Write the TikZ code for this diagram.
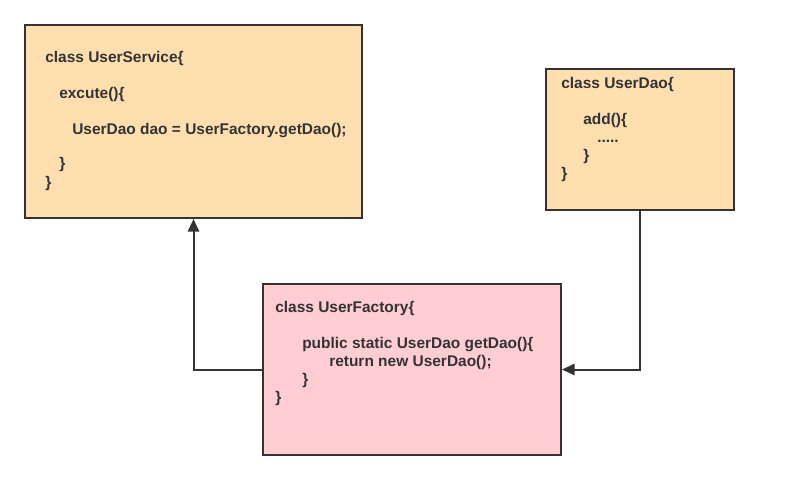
\documentclass[tikz,border=0pt]{standalone}
\usepackage{fontspec}
\setmainfont{Liberation Sans}
\usetikzlibrary{arrows.meta}
\definecolor{lineC}{HTML}{333333}
\definecolor{orangeF}{HTML}{FFDFB0}
\definecolor{pinkF}{HTML}{FFCDD2}
\tikzset{
  box/.style={draw=lineC, line width=1.5pt, inner sep=0pt},
  code/.style={anchor=base west, inner sep=0pt, text=lineC, font=\fontsize{11.6pt}{13.5pt}\selectfont\bfseries},
  arr/.style={draw=lineC, line width=1.5pt, -{Triangle[length=9.5pt,width=8.5pt]}}
}
\begin{document}
\begin{tikzpicture}[x=0.75pt,y=-0.75pt]
\useasboundingbox (0,0) rectangle (805,480);
\node[box, fill=orangeF, minimum width=252.75pt, minimum height=144.75pt] (svc) at (193.5,121.5) {};
\node[box, fill=orangeF, minimum width=141pt, minimum height=105.75pt] (dao) at (640,139.5) {};
\node[box, fill=pinkF, minimum width=223.5pt, minimum height=128.25pt] (fac) at (412,369.5) {};
% UserService text
\node[code] (s1) at (45,62) {class UserService\{};
\node[code] (s2) at (59,98) {excute()\{};
\node[code] (s3) at (72,134) {UserDao dao = UserFactory.getDao();};
\node[code] (s4) at (59,168) {\}};
\node[code] (s5) at (45,187) {\}};
% UserDao text
\node[code] (d1) at (561,88) {class UserDao\{};
\node[code] (d2) at (583,124) {add()\{};
\node[code] (d3) at (597,142) {.....};
\node[code] (d4) at (583,160) {\}};
\node[code] (d5) at (561,178) {\}};
% UserFactory text
\node[code] (f1) at (275,312) {class UserFactory\{};
\node[code] (f2) at (302,348) {public static UserDao getDao()\{};
\node[code] (f3) at (329,366) {return new UserDao();};
\node[code] (f4) at (302,384) {\}};
\node[code] (f5) at (275,402) {\}};
% connectors
\draw[arr] (fac.west) -| (svc.south);
\draw[arr] (dao.south) |- (fac.east);
\end{tikzpicture}
\end{document}
